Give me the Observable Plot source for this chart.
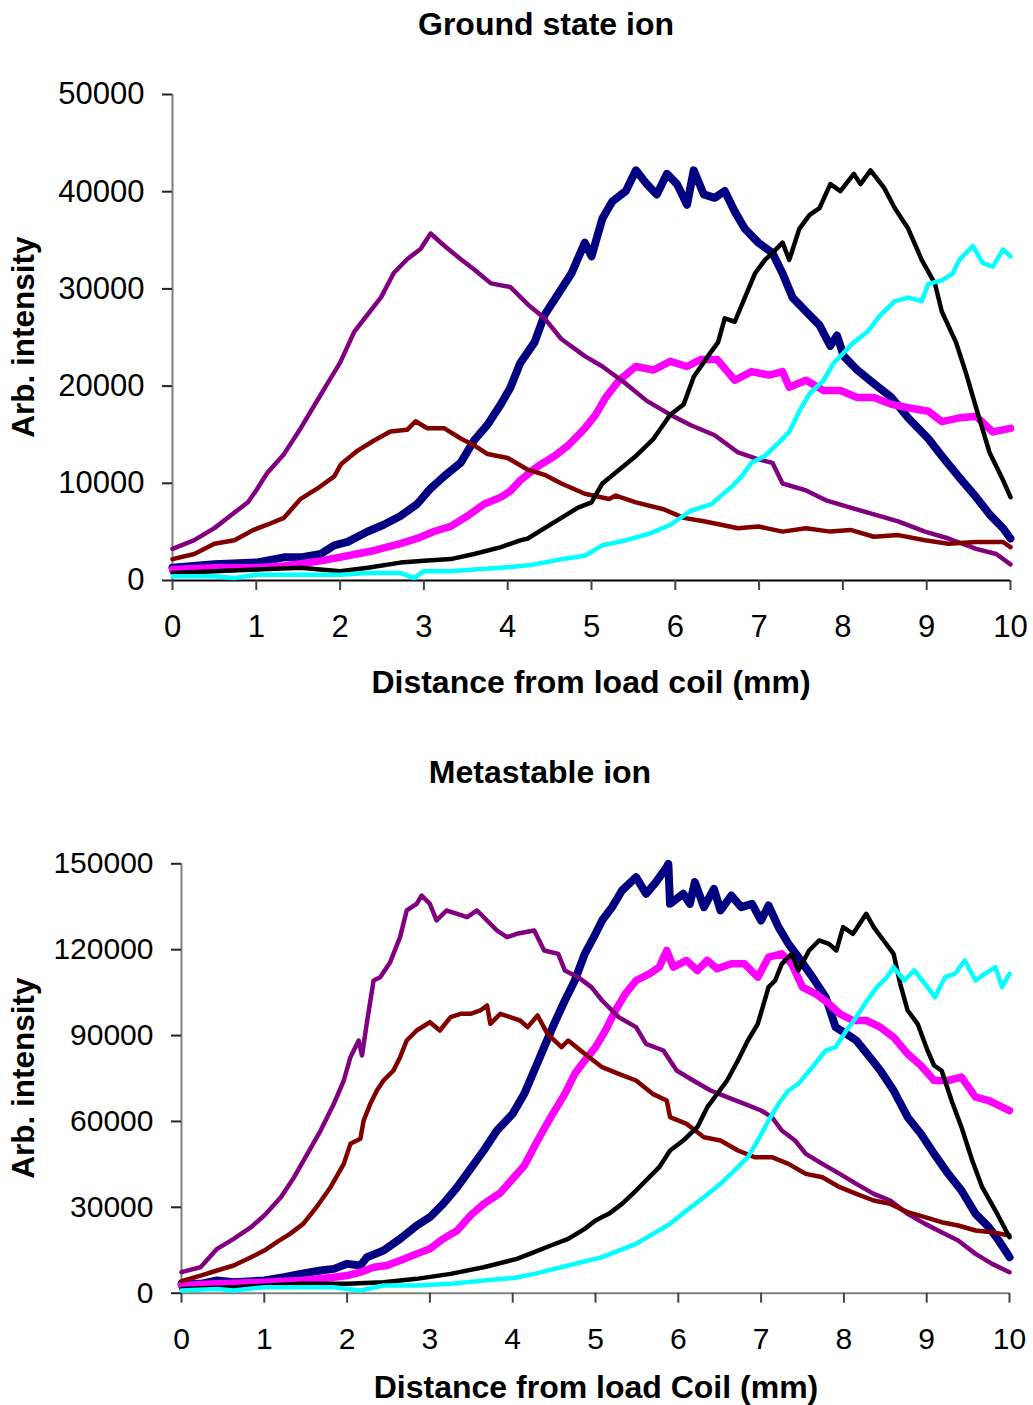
<!DOCTYPE html>
<html><head><meta charset="utf-8">
<script src="https://cdn.jsdelivr.net/npm/d3@7"></script>
<script src="https://cdn.jsdelivr.net/npm/@observablehq/plot@0.6"></script>
<style>
body{margin:0;background:#fff;font-family:"Liberation Sans",Arial,sans-serif;}
#wrap{position:relative;width:1033px;height:1405px;overflow:hidden;}
.t{position:absolute;font-weight:bold;font-size:32px;line-height:32px;white-space:nowrap;z-index:2;color:#000;transform:translateX(-50%);}
.yl{position:absolute;font-weight:bold;font-size:31.5px;line-height:31.5px;white-space:nowrap;z-index:2;color:#000;transform:translate(-50%,-50%) rotate(-90deg);}
.chart{position:absolute;left:0;}
</style></head><body><div id="wrap">
<div class="t" style="left:546px;top:8px">Ground state ion</div>
<div class="t" style="left:591px;top:666px">Distance from load coil (mm)</div>
<div class="yl" style="left:24px;top:337px">Arb. intensity</div>
<div class="t" style="left:540px;top:756px">Metastable ion</div>
<div class="t" style="left:596px;top:1371px">Distance from load Coil (mm)</div>
<div class="yl" style="left:24px;top:1078px">Arb. intensity</div>
<div class="chart" id="top" style="top:60px"></div>
<div class="chart" id="bot" style="top:830px"></div>
</div>
<script>
const xTicks = [0,1,2,3,4,5,6,7,8,9,10];
const groundYTicks = [0,10000,20000,30000,40000,50000];
const metaYTicks = [0,30000,60000,90000,120000,150000];

// Ground state ion: [distance mm, intensity]
const groundNavy = [[0,1310],[0.5,1670],[1,1840],[1.33,2380],[1.53,2380],[1.77,2730],[1.93,3620],[2.09,3970],[2.33,5040],[2.52,5740],[2.72,6630],[2.92,7870],[3.08,9470],[3.24,10710],[3.44,12130],[3.6,14430],[3.76,16030],[3.92,18160],[4.03,19800],[4.15,22370],[4.32,24500],[4.44,27330],[4.6,29450],[4.76,31580],[4.92,34760],[5.0,33350],[5.13,37240],[5.25,39010],[5.41,40070],[5.53,42200],[5.66,40780],[5.78,39720],[5.9,41840],[6.02,40780],[6.14,38660],[6.22,42200],[6.34,39720],[6.47,39370],[6.59,40070],[6.71,37950],[6.83,36180],[6.99,34760],[7.16,33700],[7.28,31580],[7.4,29100],[7.56,27680],[7.72,26270],[7.85,24140],[7.93,25200],[8.01,23080],[8.17,21660],[8.37,20250],[8.58,18830],[8.78,16710],[9.02,14580],[9.18,12810],[9.38,10690],[9.59,8570],[9.75,6800],[9.91,5380],[10,4320]];
const groundMagenta = [[0,1130],[0.5,1310],[1,1310],[1.33,1490],[1.77,2020],[2.09,2550],[2.41,3090],[2.72,3790],[2.92,4330],[3.12,5040],[3.32,5570],[3.52,6630],[3.72,7870],[3.92,8580],[4.03,9200],[4.15,10300],[4.36,11750],[4.56,12810],[4.72,13880],[4.92,15650],[5.05,17060],[5.17,18830],[5.33,20600],[5.53,22020],[5.74,21660],[5.94,22550],[6.14,22020],[6.3,22730],[6.5,22730],[6.71,20600],[6.91,21490],[7.12,21130],[7.28,21490],[7.36,19890],[7.56,20600],[7.77,19540],[7.97,19540],[8.17,18830],[8.37,18830],[8.58,18120],[8.78,17770],[9.02,17420],[9.18,16350],[9.38,16710],[9.59,16890],[9.79,15290],[10,15650]];
const groundPurple = [[0,3260],[0.26,4150],[0.5,5390],[0.74,6990],[0.9,8050],[1.0,9290],[1.13,11060],[1.33,13000],[1.53,15670],[1.69,17980],[1.85,20280],[2.0,22410],[2.17,25600],[2.33,27380],[2.49,29150],[2.64,31630],[2.8,33050],[2.96,34110],[3.08,35700],[3.24,34470],[3.44,33050],[3.6,32000],[3.8,30570],[4.03,30200],[4.24,28400],[4.44,26970],[4.64,24850],[4.92,23080],[5.13,22020],[5.41,20250],[5.66,18480],[5.94,17060],[6.18,16000],[6.47,14940],[6.75,13170],[6.99,12460],[7.16,12100],[7.28,9980],[7.56,9270],[7.81,8210],[8.09,7500],[8.37,6800],[8.66,6090],[8.98,5030],[9.26,4320],[9.59,3260],[9.83,2730],[10,1660]];
const groundMaroon = [[0,2200],[0.26,2730],[0.5,3790],[0.74,4150],[0.97,5210],[1.13,5740],[1.33,6450],[1.53,8400],[1.73,9470],[1.93,10710],[2.01,11950],[2.21,13370],[2.41,14430],[2.6,15320],[2.8,15500],[2.9,16380],[3.04,15670],[3.24,15670],[3.44,14610],[3.6,13900],[3.76,13010],[4.0,12600],[4.24,11400],[4.44,10870],[4.64,9980],[4.92,8920],[5.21,8390],[5.29,8740],[5.53,8040],[5.86,7330],[6.1,6440],[6.34,6090],[6.75,5380],[6.99,5560],[7.28,5030],[7.56,5380],[7.85,5030],[8.09,5200],[8.37,4500],[8.66,4670],[8.98,4140],[9.26,3790],[9.59,3960],[9.91,3960],[10,3430]];
const groundBlack = [[0,780],[0.5,960],[1,1130],[1.53,1310],[2,960],[2.33,1310],[2.72,1840],[3,2020],[3.32,2200],[3.6,2730],[3.92,3440],[4.16,4150],[4.24,4320],[4.44,5380],[4.64,6440],[4.84,7500],[5.0,8040],[5.13,9980],[5.33,11400],[5.53,12810],[5.74,14580],[5.94,17060],[6.1,18120],[6.22,20960],[6.39,23080],[6.51,24500],[6.59,26970],[6.71,26620],[6.83,29100],[6.95,31580],[7.07,32990],[7.16,33700],[7.28,34760],[7.36,32990],[7.48,36180],[7.6,37590],[7.72,38300],[7.85,40780],[7.97,40070],[8.13,41840],[8.21,40780],[8.33,42200],[8.49,40420],[8.62,38300],[8.78,36180],[8.94,32990],[9.1,30510],[9.18,27680],[9.35,24500],[9.47,21310],[9.59,17770],[9.75,13170],[9.91,10340],[10,8570]];
const groundCyan = [[0,430],[0.5,430],[0.74,250],[1,600],[1.53,600],[2,600],[2.33,780],[2.72,780],[2.88,250],[3,960],[3.32,960],[3.6,1130],[3.92,1310],[4.16,1490],[4.32,1660],[4.64,2190],[4.92,2550],[5.13,3610],[5.41,4140],[5.7,4850],[5.94,5730],[6.18,7150],[6.43,7860],[6.67,9630],[6.79,10690],[6.91,12110],[7.07,12810],[7.24,14230],[7.36,15290],[7.48,17420],[7.6,19190],[7.77,20600],[7.89,22370],[8.01,23430],[8.13,24500],[8.29,25560],[8.45,27330],[8.62,28740],[8.78,29100],[8.94,28740],[9.02,30510],[9.18,30870],[9.31,31580],[9.39,32990],[9.55,34410],[9.67,32640],[9.79,32290],[9.91,34050],[10,33350]];

// Metastable ion: [distance mm, intensity]
const metaNavy = [[0,3260],[0.23,3260],[0.43,4430],[0.63,3840],[1,4430],[1.24,5590],[1.44,6750],[1.68,7920],[1.84,8500],[2,10250],[2.16,9670],[2.24,12580],[2.44,14910],[2.64,18980],[2.84,23640],[3,26550],[3.16,31210],[3.33,37030],[3.49,43440],[3.65,49840],[3.81,56830],[3.93,60500],[4.0,62650],[4.14,69640],[4.26,77790],[4.38,85950],[4.5,94100],[4.63,102250],[4.75,109240],[4.87,118550],[5.0,125540],[5.08,130200],[5.2,134860],[5.32,140680],[5.49,145340],[5.61,139520],[5.73,143600],[5.86,148840],[5.88,150000],[5.9,136020],[6.06,139520],[6.14,136020],[6.2,143600],[6.31,134860],[6.43,141260],[6.51,133690],[6.64,138930],[6.76,134860],[6.89,136020],[7.0,130200],[7.09,135440],[7.21,127870],[7.33,122050],[7.45,117390],[7.62,110400],[7.78,103410],[7.9,92940],[8.03,90610],[8.15,88270],[8.28,83620],[8.44,77790],[8.6,70810],[8.77,61490],[8.93,55660],[9.09,48680],[9.26,41690],[9.42,35870],[9.59,27720],[9.75,23060],[9.87,18400],[10,12580]];
const metaMagenta = [[0,2680],[0.43,3260],[1,3840],[1.44,4430],[1.84,5590],[2,6170],[2.16,7340],[2.32,9080],[2.48,9670],[2.64,11410],[2.84,13740],[3,15490],[3.16,18980],[3.33,21890],[3.49,27130],[3.65,31210],[3.85,35000],[4.0,40000],[4.14,44500],[4.3,53340],[4.46,61490],[4.63,69640],[4.75,76630],[4.87,81290],[5.0,85950],[5.12,91770],[5.24,98760],[5.36,104580],[5.49,109240],[5.65,111570],[5.77,113900],[5.86,119720],[5.94,113900],[6.1,116230],[6.23,112730],[6.35,116230],[6.47,113320],[6.64,115060],[6.8,115060],[6.96,110400],[7.09,117390],[7.25,118550],[7.37,115060],[7.5,106910],[7.66,104580],[7.82,101080],[7.95,97600],[8.11,95260],[8.27,95260],[8.44,92940],[8.6,89440],[8.77,83620],[8.93,79540],[9.09,74300],[9.26,74300],[9.42,75470],[9.59,68480],[9.75,67310],[10,63820]];
const metaPurple = [[0,7340],[0.23,9080],[0.43,15490],[0.63,18980],[0.84,23060],[1,27130],[1.2,33540],[1.36,40530],[1.52,48680],[1.68,56830],[1.84,66150],[1.96,74300],[2.04,82450],[2.14,88270],[2.18,83030],[2.24,94680],[2.32,109240],[2.4,110400],[2.52,115640],[2.64,124380],[2.72,133690],[2.84,136020],[2.9,138930],[3.0,136020],[3.08,130200],[3.2,133690],[3.33,132530],[3.45,131370],[3.57,133690],[3.69,130200],[3.81,126700],[3.93,124380],[4.05,125540],[4.26,126700],[4.38,119720],[4.55,118550],[4.63,112730],[4.79,110400],[4.95,106910],[5.08,102250],[5.28,96430],[5.49,92940],[5.61,87110],[5.82,84780],[5.9,81290],[5.98,77790],[6.18,74300],[6.39,70810],[6.59,68480],[6.8,66150],[7.0,63820],[7.13,61490],[7.25,56830],[7.41,53340],[7.54,48680],[7.74,45190],[7.95,41690],[8.15,38200],[8.36,34710],[8.56,32380],[8.77,27720],[8.98,24220],[9.18,21310],[9.38,18400],[9.59,13740],[9.79,10250],[10,7340]];
const metaMaroon = [[0,4190],[0.23,6170],[0.43,7920],[0.63,9670],[0.84,12580],[1,14910],[1.15,17820],[1.31,20730],[1.47,24220],[1.63,30050],[1.8,37030],[1.96,45190],[2.04,52170],[2.16,53920],[2.2,60330],[2.28,66150],[2.36,70810],[2.44,74300],[2.56,77790],[2.64,82450],[2.72,88270],[2.84,91770],[3.0,94680],[3.12,91770],[3.25,96430],[3.37,97600],[3.49,97600],[3.61,98760],[3.69,100510],[3.73,94100],[3.85,97600],[3.97,96430],[4.09,95260],[4.18,92940],[4.3,97010],[4.42,90610],[4.59,85950],[4.67,88270],[4.87,83620],[5.08,78960],[5.28,76630],[5.49,74300],[5.69,69640],[5.86,67310],[5.9,61490],[6.1,59160],[6.31,54500],[6.51,53340],[6.72,49850],[6.92,47520],[7.13,47520],[7.33,45190],[7.54,41690],[7.74,40530],[7.95,37030],[8.15,34710],[8.36,32380],[8.56,31210],[8.77,28300],[8.98,26550],[9.18,24810],[9.38,23640],[9.59,21890],[9.79,21310],[10,20150]];
const metaBlack = [[0,1510],[0.63,2100],[1.44,3260],[2,3260],[2.44,3840],[2.84,5010],[3.25,6750],[3.65,9080],[4.05,12000],[4.26,14320],[4.46,16650],[4.67,18980],[4.87,22480],[5.0,25390],[5.16,27720],[5.32,31210],[5.49,35870],[5.65,40530],[5.77,44020],[5.9,49840],[6.06,53340],[6.23,58000],[6.35,64980],[6.47,69640],[6.59,74300],[6.72,81290],[6.84,88270],[6.96,94100],[7.09,106910],[7.17,109240],[7.25,115060],[7.37,118550],[7.45,112730],[7.58,119720],[7.7,123210],[7.82,122050],[7.91,119720],[7.99,127870],[8.11,125540],[8.19,129040],[8.27,132530],[8.36,127870],[8.48,123210],[8.6,118550],[8.68,108070],[8.77,98760],[8.89,94100],[9.01,84780],[9.09,79540],[9.18,77790],[9.3,67310],[9.42,58000],[9.55,46350],[9.67,37030],[9.83,28880],[10,19560]];
const metaCyan = [[0,930],[0.43,1510],[0.63,930],[1,2100],[1.44,2100],[1.84,2100],[2.16,930],[2.44,2680],[2.84,2680],[3.25,3260],[3.65,4430],[4.03,5400],[4.26,6750],[4.67,9670],[5.08,12580],[5.49,17240],[5.9,24220],[6.1,28880],[6.31,33540],[6.51,38200],[6.72,44020],[6.84,47520],[6.96,53340],[7.09,60330],[7.21,66150],[7.33,70810],[7.45,73140],[7.62,79000],[7.78,84780],[7.9,86000],[8.03,91770],[8.15,96430],[8.28,102250],[8.4,106910],[8.52,110400],[8.6,113900],[8.73,109240],[8.85,112730],[8.98,108070],[9.1,103410],[9.22,110400],[9.34,111570],[9.46,116230],[9.59,109240],[9.7,111570],[9.83,113900],[9.91,106910],[10,111570]];

const seriesColors = {navy:"#000080", magenta:"#FF00FF", purple:"#800080", maroon:"#800000", black:"#000000", cyan:"#00FFFF"};
const seriesWidths = {navy:8, magenta:7.5, purple:4.5, maroon:4.5, black:4.5, cyan:4.5};

function panel(opts) {
  const {series, yMax, yTicks, height, mt, mb, ml, mr, xAxisColor, fs} = opts;
  const marks = [
    Plot.ruleX([0], {stroke:"#808080", strokeWidth:2}),
    Plot.ruleY([0], {stroke:xAxisColor, strokeWidth:2}),
    Plot.axisX({ticks:xTicks, tickSize:10, tickPadding:24, tickFormat:d=>String(d), label:null, strokeWidth:2, stroke:"#444"}),
    Plot.axisY({ticks:yTicks, tickSize:10, tickPadding:18, tickFormat:d=>String(d), label:null, strokeWidth:2, stroke:"#222"})
  ];
  for (const [name, data] of series) {
    marks.push(Plot.line(data, {x:d=>d[0], y:d=>d[1], stroke:seriesColors[name], strokeWidth:seriesWidths[name], strokeLinejoin:"round", strokeLinecap:"round"}));
  }
  return Plot.plot({
    width:1033, height, marginTop:mt, marginBottom:mb, marginLeft:ml, marginRight:mr,
    x:{domain:[0,10]}, y:{domain:[0,yMax]},
    style:{fontSize:fs+"px", fontFamily:"'Liberation Sans', Arial, sans-serif", color:"#000", background:"transparent", overflow:"visible"},
    marks
  });
}

document.getElementById("top").appendChild(panel({
  series:[["navy",groundNavy],["magenta",groundMagenta],["purple",groundPurple],["maroon",groundMaroon],["black",groundBlack],["cyan",groundCyan]],
  yMax:50000, yTicks:groundYTicks, height:590, mt:34, mb:70, ml:172, mr:23, xAxisColor:"#000", fs:31
}));
document.getElementById("bot").appendChild(panel({
  series:[["navy",metaNavy],["magenta",metaMagenta],["purple",metaPurple],["maroon",metaMaroon],["black",metaBlack],["cyan",metaCyan]],
  yMax:150000, yTicks:metaYTicks, height:530, mt:33.3, mb:67.3, ml:181, mr:24, xAxisColor:"#808080", fs:30
}));
</script>
</body></html>
